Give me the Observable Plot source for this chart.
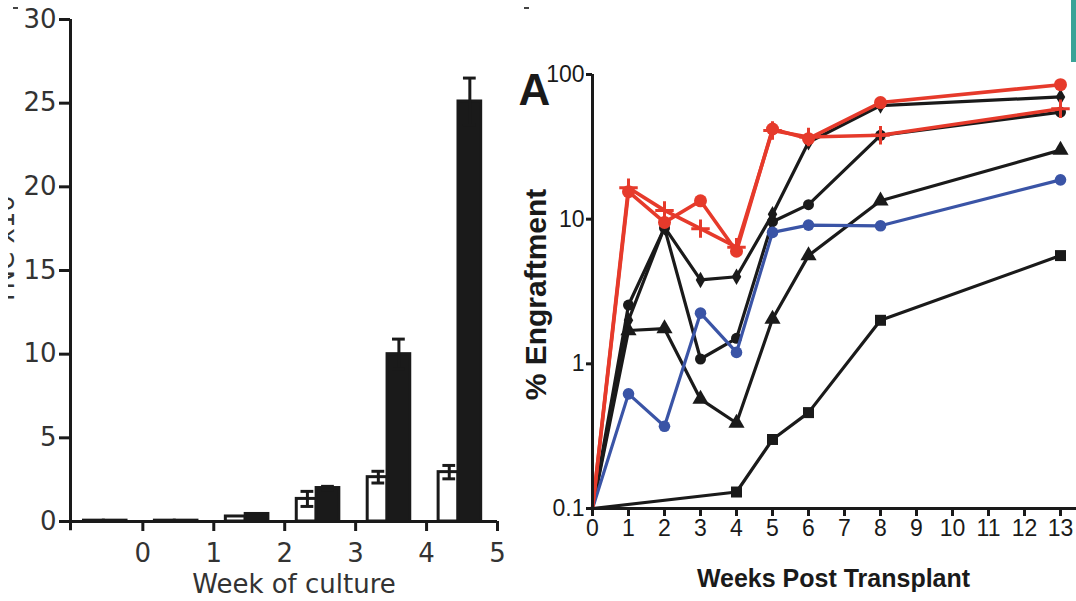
<!DOCTYPE html>
<html><head><meta charset="utf-8">
<script src="https://cdn.jsdelivr.net/npm/d3@7"></script>
<script src="https://cdn.jsdelivr.net/npm/@observablehq/plot@0.6"></script>
<style>
body{margin:0;background:#fff}
#wrap{position:relative;width:1076px;height:601px;overflow:hidden;background:#fff}
#left{position:absolute;left:0;top:0}
#right{position:absolute;left:520px;top:0}
#ylab{position:absolute;left:8px;top:140px;width:10px;height:210px;overflow:hidden}
#ylab span{position:absolute;left:-3px;top:105px;transform:translate(-50%,-50%) rotate(-90deg);transform-origin:50% 50%;white-space:nowrap;font:26px "DejaVu Sans",sans-serif;line-height:30px;color:#333;display:block}
.teal{position:absolute;left:1071px;top:0;width:5px;height:62px;background:#3aa397}
.dash{position:absolute;height:2px;width:5px;background:#444}
</style></head>
<body><div id="wrap"><div id="left"></div><div id="right"></div>
<div id="ylab"><span>TNC x10⁶</span></div>
<div class="teal"></div>
<div class="dash" style="left:13px;top:7px"></div><div class="dash" style="left:524px;top:7px"></div>
</div>
<script>
// ---------- Left panel data ----------
const cultureWeeks = [-1, 0, 1, 2, 3, 4];
const whiteVals = [0.05, 0.05, 0.3, 1.35, 2.65, 2.95];
const whiteErr  = [0, 0, 0, 0.45, 0.35, 0.4];
const blackVals = [0.05, 0.05, 0.45, 2.0, 10.0, 25.1];
const blackErr  = [0, 0, 0, 0.1, 0.9, 1.4];
const leftYTicks = [0, 5, 10, 15, 20, 25, 30];
const leftXTicks = [0, 1, 2, 3, 4, 5];

// ---------- Right panel data ----------
const weeksPT = [0, 1, 2, 3, 4, 5, 6, 8, 13];
const redCircle     = [0.1, 15.5, 9.5, 13.4, 6.0, 42, 36, 64, 85];
const redPlus       = [0.1, 16.5, 11.5, 8.6, 6.4, 41, 37, 38, 58];
const blackDiamond  = [0.1, 2.0, 8.8, 3.8, 4.0, 10.8, 34, 61, 70];
const blackCircle   = [0.1, 2.55, 8.7, 1.08, 1.5, 9.6, 12.6, 38, 55];
const blackTriangle = [0.1, 1.7, 1.75, 0.57, 0.39, 2.04, 5.6, 13.4, 30];
const blueCircle    = [0.1, 0.62, 0.37, 2.24, 1.2, 8.1, 9.1, 9.0, 18.7];
const squareWeeks   = [0, 4, 5, 6, 8, 13];
const blackSquare   = [0.1, 0.13, 0.30, 0.46, 2.0, 5.6];
const rightYTicks = [0.1, 1, 10, 100];
const rightXTicks = [0, 1, 2, 3, 4, 5, 6, 7, 8, 9, 10, 11, 12, 13];

const INK = "#1a1a1a";
const RED = "#e63a2b";
const BLUE = "#3a54a6";

// ---------- Left chart ----------
const whiteBars = cultureWeeks.map((w, i) => ({w, v: whiteVals[i], e: whiteErr[i]}));
const blackBars = cultureWeeks.map((w, i) => ({w, v: blackVals[i], e: blackErr[i]}));
const wX1 = d => d.w + 0.17, wX2 = d => d.w + 0.45, wC = d => d.w + 0.32;
const bX1 = d => d.w + 0.45, bX2 = d => d.w + 0.77, bC = d => d.w + 0.61;
const capW = 0.09;

function errMarks(data, c) {
  const f = data.filter(d => d.e > 0);
  return [
    Plot.ruleX(f, {x: c, y1: d => d.v - d.e, y2: d => d.v + d.e, stroke: INK, strokeWidth: 3}),
    Plot.ruleY(f, {y: d => d.v + d.e, x1: d => c(d) - capW, x2: d => c(d) + capW, stroke: INK, strokeWidth: 3}),
    Plot.ruleY(f, {y: d => d.v - d.e, x1: d => c(d) - capW, x2: d => c(d) + capW, stroke: INK, strokeWidth: 3})
  ];
}

const left = Plot.plot({
  width: 520, height: 601,
  marginLeft: 70, marginRight: 23, marginTop: 19, marginBottom: 80,
  x: {domain: [-1.02, 5]},
  y: {domain: [0, 30]},
  style: {fontFamily: "'DejaVu Sans', sans-serif", fontSize: "26px", color: "#333", background: "white", overflow: "visible"},
  marks: [
    Plot.rectY(whiteBars, {x1: wX1, x2: wX2, y1: 0, y2: "v", fill: "white", stroke: INK, strokeWidth: 3}),
    Plot.rectY(blackBars, {x1: bX1, x2: bX2, y1: 0, y2: "v", fill: INK, stroke: INK, strokeWidth: 3}),
    ...errMarks(whiteBars, wC),
    ...errMarks(blackBars, bC),
    Plot.ruleX([-1.02], {y1: -0.55, y2: 30, stroke: INK, strokeWidth: 3}),
    Plot.ruleY([0], {x1: -1.02, x2: 5, stroke: INK, strokeWidth: 3}),
    Plot.axisY(leftYTicks, {tickSize: 11, tickPadding: 3, strokeWidth: 3, stroke: INK, fontSize: 26, label: null}),
    Plot.axisX(leftXTicks, {tickSize: 10, tickPadding: 12, strokeWidth: 3, stroke: INK, fontSize: 26, label: null}),
    Plot.text(["Week of culture"], {frameAnchor: "bottom", textAnchor: "middle", lineAnchor: "middle", dx: 10, dy: 63, fontSize: 26, fill: "#333"})
  ]
});
document.getElementById("left").appendChild(left);

// ---------- Right chart ----------
function mk(weeks, values) { return weeks.map((w, i) => ({w, v: values[i]})); }
const series = [
  {data: mk(squareWeeks, blackSquare), color: INK, symbol: "square", r: 6.2, filled: true},
  {data: mk(weeksPT, blackTriangle), color: INK, symbol: "triangle", r: 6, filled: true},
  {data: mk(weeksPT, blackCircle), color: INK, symbol: "circle", r: 5.5, filled: true},
  {data: mk(weeksPT, blackDiamond), color: INK, symbol: "diamond", r: 5, filled: true},
  {data: mk(weeksPT, blueCircle), color: BLUE, symbol: "circle", r: 5.8, filled: true},
  {data: mk(weeksPT, redPlus), color: RED, symbol: "plus", r: 6, filled: false},
  {data: mk(weeksPT, redCircle), color: RED, symbol: "circle", r: 6.5, filled: true}
];
const seriesMarks = series.flatMap(s => [
  Plot.line(s.data, {x: "w", y: "v", stroke: s.color, strokeWidth: s.color === RED ? 3.6 : 3.2}),
  Plot.dot(s.data.filter(d => d.w > 0), s.filled
    ? {x: "w", y: "v", symbol: s.symbol, r: s.r, fill: s.color, stroke: "none"}
    : {x: "w", y: "v", symbol: s.symbol, r: s.r, fill: "none", stroke: s.color, strokeWidth: 3})
]);

const SANS = "'Liberation Sans', Arial, sans-serif";
const right = Plot.plot({
  width: 556, height: 601,
  marginLeft: 72, marginRight: 16, marginTop: 74, marginBottom: 93,
  x: {domain: [0, 13]},
  y: {type: "log", domain: [0.1, 100]},
  style: {fontFamily: SANS, fontSize: "23px", color: INK, background: "white", overflow: "visible"},
  marks: [
    ...seriesMarks,
    Plot.ruleX([0], {y1: 0.1, y2: 100, stroke: INK, strokeWidth: 3}),
    Plot.ruleY([0.1], {x1: 0, x2: 13.45, stroke: INK, strokeWidth: 3}),
    Plot.axisY(rightYTicks, {tickSize: 6, tickPadding: 2, strokeWidth: 3, stroke: INK, fontSize: 23, label: null, tickFormat: d => String(d)}),
    Plot.axisX(rightXTicks, {tickSize: 8, tickPadding: 3, strokeWidth: 3, stroke: INK, fontSize: 23, label: null}),
    Plot.text(["A"], {frameAnchor: "top-left", textAnchor: "middle", lineAnchor: "middle", dx: -58, dy: 16, fontSize: 44, fontWeight: "bold", fill: INK}),
    Plot.text(["% Engraftment"], {frameAnchor: "left", textAnchor: "middle", lineAnchor: "middle", rotate: -90, dx: -56, dy: 3, fontSize: 30, fontWeight: "bold", fill: INK}),
    Plot.text(["Weeks Post Transplant"], {frameAnchor: "bottom", textAnchor: "middle", lineAnchor: "middle", dx: 7, dy: 70, fontSize: 25, fontWeight: "bold", fill: INK})
  ]
});
document.getElementById("right").appendChild(right);
</script>
</body></html>
